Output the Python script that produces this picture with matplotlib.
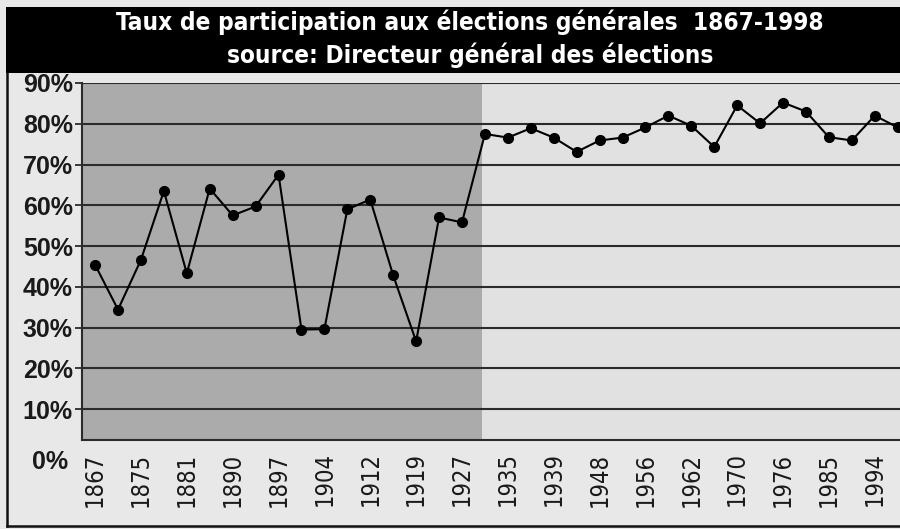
import matplotlib
matplotlib.use('Agg')
import matplotlib.pyplot as plt
from matplotlib.patches import Rectangle
from matplotlib.lines import Line2D

# ---------------- data ----------------
years = [1867, 1871, 1875, 1878, 1881, 1886, 1890, 1892, 1897, 1900,
         1904, 1908, 1912, 1916, 1919, 1923, 1927, 1931, 1935, 1936,
         1939, 1944, 1948, 1952, 1956, 1960, 1962, 1966, 1970, 1973,
         1976, 1981, 1985, 1989, 1994, 1998]
turnout = [45.4, 34.4, 46.6, 63.5, 43.3, 64.1, 57.5, 59.7, 67.5, 29.5,
           29.6, 59.0, 61.4, 42.8, 26.6, 57.0, 55.8, 77.5, 76.6, 78.9,
           76.6, 73.1, 75.9, 76.6, 79.1, 82.0, 79.5, 74.3, 84.5, 80.1,
           85.2, 83.0, 76.7, 75.9, 82.0, 79.1]
tick_years = years[::2]
y_ticks = [10, 20, 30, 40, 50, 60, 70, 80, 90]
title_line1 = "Taux de participation aux élections générales  1867-1998"
title_line2 = "source: Directeur général des élections"
shade_until = 1931  # dark background up to this election

# ---------------- figure ----------------
W, H = 900, 529
fig = plt.figure(figsize=(W / 100, H / 100), dpi=100)
fig.patch.set_facecolor('#e8e8e8')

cond = dict(family='DejaVu Sans', fontstretch='condensed')
regular = ['Liberation Sans', 'DejaVu Sans']

# title bar
fig.patches.append(Rectangle((6 / W, 1 - 73 / H), 1.0, 66 / H,
                             transform=fig.transFigure, facecolor='black',
                             edgecolor='none', zorder=0))
fig.text(470 / W, 1 - 22 / H, title_line1, color='white', ha='center',
         va='center', fontsize=17.5, fontweight='bold', **cond)
fig.text(470 / W, 1 - 55 / H, title_line2, color='white', ha='center',
         va='center', fontsize=17.5, fontweight='bold', **cond)

# outer frame
fig.lines.append(Line2D([7 / W, 7 / W], [1 - 73 / H, 1 - 526 / H],
                        transform=fig.transFigure, color='#111111', lw=1.8))
fig.lines.append(Line2D([7 / W, 1.0], [1 - 526 / H, 1 - 526 / H],
                        transform=fig.transFigure, color='#111111', lw=1.8))

# ---------------- axes ----------------
ax = fig.add_axes([82 / W, 1 - 440 / H, 1 - 82 / W, (440 - 83) / H])
ax.set_facecolor('#e1e1e1')
xs = list(range(len(years)))
idx_shade = years.index(shade_until)
ax.axvspan(-1, idx_shade - 0.12, color='#ababab', zorder=0, lw=0)

for v in y_ticks:
    ax.axhline(v, color='#2b2b2b', lw=1.5, zorder=1)

ax.plot(xs, turnout, color='black', lw=1.5, marker='o', ms=7,
        zorder=3)

ax.set_xlim(-0.57, 35.1)
ax.set_ylim(2.4, 90)

ax.set_yticks(y_ticks)
ax.set_yticklabels([f'{v}%' for v in y_ticks], fontsize=18, family=regular,
                   fontweight='bold', color='#1a1a1a')
ax.tick_params(axis='y', length=5, width=1.3, color='#2b2b2b', pad=1.5)

ax.set_xticks(xs[::2])
ax.set_xticklabels([str(y) for y in tick_years], rotation=90, fontsize=17,
                   color='#1a1a1a', va='top', **cond)
ax.tick_params(axis='x', length=0, pad=9)

ax.text(-0.017, 0, '0%', transform=ax.get_yaxis_transform(), ha='right',
        va='top', fontsize=18, family=regular, fontweight='bold',
        color='#1a1a1a', clip_on=False)

for s in ['top', 'right']:
    ax.spines[s].set_visible(False)
for s in ['left', 'bottom']:
    ax.spines[s].set_color('#2b2b2b')
    ax.spines[s].set_linewidth(1.5)

fig.savefig('out.png', dpi=100, facecolor=fig.get_facecolor())
